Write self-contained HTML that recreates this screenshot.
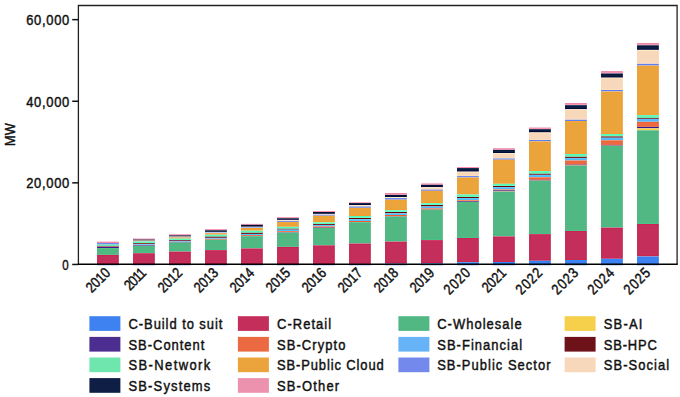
<!DOCTYPE html>
<html><head><meta charset="utf-8"><style>
html,body{margin:0;padding:0;background:#fff;}
svg{display:block;}
text{font-family:"Liberation Sans",sans-serif;}
</style></head><body>
<svg width="680" height="397" viewBox="0 0 680 397">
<defs><filter id="sh" x="-5%" y="-5%" width="110%" height="110%" filterUnits="objectBoundingBox" color-interpolation-filters="sRGB"><feConvolveMatrix order="3" kernelMatrix="0 -0.1 0 -0.1 1.4 -0.1 0 -0.1 0" edgeMode="duplicate" preserveAlpha="false"/></filter></defs>
<rect x="0" y="0" width="680" height="397" fill="#fff"/>
<g filter="url(#sh)"><rect x="80" y="30" width="596" height="240" fill="#fff"/>
<rect x="97.10" y="241.60" width="21.7" height="1.45" fill="#EC91AE"/>
<rect x="97.10" y="243.05" width="21.7" height="1.55" fill="#7389EC"/>
<rect x="97.10" y="244.60" width="21.7" height="1.30" fill="#62F2B2"/>
<rect x="97.10" y="245.90" width="21.7" height="0.70" fill="#6E1219"/>
<rect x="97.10" y="246.60" width="21.7" height="0.20" fill="#5CB8FA"/>
<rect x="97.10" y="246.80" width="21.7" height="0.20" fill="#EB6A41"/>
<rect x="97.10" y="247.00" width="21.7" height="1.00" fill="#4B2E8F"/>
<rect x="97.10" y="248.00" width="21.7" height="6.90" fill="#52B883"/>
<rect x="97.10" y="254.90" width="21.7" height="9.10" fill="#C42E5A"/>
<rect x="97.10" y="264.00" width="21.7" height="0.60" fill="#3D82F0"/>
<rect x="133.10" y="238.50" width="21.7" height="1.10" fill="#EC91AE"/>
<rect x="133.10" y="239.60" width="21.7" height="1.00" fill="#0F1E45"/>
<rect x="133.10" y="240.60" width="21.7" height="0.40" fill="#F8D8BA"/>
<rect x="133.10" y="241.00" width="21.7" height="0.20" fill="#7389EC"/>
<rect x="133.10" y="241.20" width="21.7" height="0.30" fill="#EBA43C"/>
<rect x="133.10" y="241.50" width="21.7" height="1.80" fill="#62F2B2"/>
<rect x="133.10" y="243.30" width="21.7" height="1.00" fill="#6E1219"/>
<rect x="133.10" y="244.30" width="21.7" height="0.70" fill="#5CB8FA"/>
<rect x="133.10" y="245.00" width="21.7" height="0.20" fill="#EB6A41"/>
<rect x="133.10" y="245.20" width="21.7" height="0.60" fill="#4B2E8F"/>
<rect x="133.10" y="245.80" width="21.7" height="7.40" fill="#52B883"/>
<rect x="133.10" y="253.20" width="21.7" height="10.80" fill="#C42E5A"/>
<rect x="133.10" y="264.00" width="21.7" height="0.60" fill="#3D82F0"/>
<rect x="169.10" y="234.20" width="21.7" height="1.20" fill="#EC91AE"/>
<rect x="169.10" y="235.40" width="21.7" height="1.20" fill="#0F1E45"/>
<rect x="169.10" y="236.60" width="21.7" height="0.50" fill="#F8D8BA"/>
<rect x="169.10" y="237.10" width="21.7" height="0.40" fill="#7389EC"/>
<rect x="169.10" y="237.50" width="21.7" height="1.10" fill="#EBA43C"/>
<rect x="169.10" y="238.60" width="21.7" height="1.40" fill="#62F2B2"/>
<rect x="169.10" y="240.00" width="21.7" height="0.80" fill="#6E1219"/>
<rect x="169.10" y="240.80" width="21.7" height="1.00" fill="#5CB8FA"/>
<rect x="169.10" y="241.80" width="21.7" height="0.20" fill="#EB6A41"/>
<rect x="169.10" y="242.00" width="21.7" height="0.50" fill="#4B2E8F"/>
<rect x="169.10" y="242.50" width="21.7" height="9.10" fill="#52B883"/>
<rect x="169.10" y="251.60" width="21.7" height="12.40" fill="#C42E5A"/>
<rect x="169.10" y="264.00" width="21.7" height="0.60" fill="#3D82F0"/>
<rect x="205.10" y="229.10" width="21.7" height="1.20" fill="#EC91AE"/>
<rect x="205.10" y="230.30" width="21.7" height="1.60" fill="#0F1E45"/>
<rect x="205.10" y="231.90" width="21.7" height="0.60" fill="#F8D8BA"/>
<rect x="205.10" y="232.50" width="21.7" height="0.70" fill="#7389EC"/>
<rect x="205.10" y="233.20" width="21.7" height="1.50" fill="#EBA43C"/>
<rect x="205.10" y="234.70" width="21.7" height="2.00" fill="#62F2B2"/>
<rect x="205.10" y="236.70" width="21.7" height="1.10" fill="#6E1219"/>
<rect x="205.10" y="237.80" width="21.7" height="1.00" fill="#5CB8FA"/>
<rect x="205.10" y="238.80" width="21.7" height="0.80" fill="#EB6A41"/>
<rect x="205.10" y="239.60" width="21.7" height="0.10" fill="#4B2E8F"/>
<rect x="205.10" y="239.70" width="21.7" height="10.40" fill="#52B883"/>
<rect x="205.10" y="250.10" width="21.7" height="13.90" fill="#C42E5A"/>
<rect x="205.10" y="264.00" width="21.7" height="0.60" fill="#3D82F0"/>
<rect x="241.10" y="223.80" width="21.7" height="1.00" fill="#EC91AE"/>
<rect x="241.10" y="224.80" width="21.7" height="2.00" fill="#0F1E45"/>
<rect x="241.10" y="226.80" width="21.7" height="0.60" fill="#F8D8BA"/>
<rect x="241.10" y="227.40" width="21.7" height="0.60" fill="#7389EC"/>
<rect x="241.10" y="228.00" width="21.7" height="2.70" fill="#EBA43C"/>
<rect x="241.10" y="230.70" width="21.7" height="2.10" fill="#62F2B2"/>
<rect x="241.10" y="232.80" width="21.7" height="1.10" fill="#6E1219"/>
<rect x="241.10" y="233.90" width="21.7" height="1.20" fill="#5CB8FA"/>
<rect x="241.10" y="235.10" width="21.7" height="0.80" fill="#EB6A41"/>
<rect x="241.10" y="235.90" width="21.7" height="0.30" fill="#4B2E8F"/>
<rect x="241.10" y="236.20" width="21.7" height="12.20" fill="#52B883"/>
<rect x="241.10" y="248.40" width="21.7" height="15.60" fill="#C42E5A"/>
<rect x="241.10" y="264.00" width="21.7" height="0.60" fill="#3D82F0"/>
<rect x="277.10" y="217.10" width="21.7" height="1.20" fill="#EC91AE"/>
<rect x="277.10" y="218.30" width="21.7" height="1.60" fill="#0F1E45"/>
<rect x="277.10" y="219.90" width="21.7" height="0.90" fill="#F8D8BA"/>
<rect x="277.10" y="220.80" width="21.7" height="1.10" fill="#7389EC"/>
<rect x="277.10" y="221.90" width="21.7" height="4.90" fill="#EBA43C"/>
<rect x="277.10" y="226.80" width="21.7" height="2.00" fill="#62F2B2"/>
<rect x="277.10" y="228.80" width="21.7" height="0.80" fill="#6E1219"/>
<rect x="277.10" y="229.60" width="21.7" height="1.60" fill="#5CB8FA"/>
<rect x="277.10" y="231.20" width="21.7" height="1.00" fill="#EB6A41"/>
<rect x="277.10" y="232.20" width="21.7" height="0.40" fill="#4B2E8F"/>
<rect x="277.10" y="232.60" width="21.7" height="14.30" fill="#52B883"/>
<rect x="277.10" y="246.90" width="21.7" height="17.10" fill="#C42E5A"/>
<rect x="277.10" y="264.00" width="21.7" height="0.60" fill="#3D82F0"/>
<rect x="313.10" y="210.90" width="21.7" height="1.10" fill="#EC91AE"/>
<rect x="313.10" y="212.00" width="21.7" height="1.90" fill="#0F1E45"/>
<rect x="313.10" y="213.90" width="21.7" height="0.70" fill="#F8D8BA"/>
<rect x="313.10" y="214.60" width="21.7" height="1.10" fill="#7389EC"/>
<rect x="313.10" y="215.70" width="21.7" height="6.70" fill="#EBA43C"/>
<rect x="313.10" y="222.40" width="21.7" height="1.60" fill="#62F2B2"/>
<rect x="313.10" y="224.00" width="21.7" height="0.90" fill="#6E1219"/>
<rect x="313.10" y="224.90" width="21.7" height="1.50" fill="#5CB8FA"/>
<rect x="313.10" y="226.40" width="21.7" height="1.20" fill="#EB6A41"/>
<rect x="313.10" y="227.60" width="21.7" height="0.40" fill="#4B2E8F"/>
<rect x="313.10" y="228.00" width="21.7" height="17.30" fill="#52B883"/>
<rect x="313.10" y="245.30" width="21.7" height="18.70" fill="#C42E5A"/>
<rect x="313.10" y="264.00" width="21.7" height="0.60" fill="#3D82F0"/>
<rect x="349.10" y="202.20" width="21.7" height="0.90" fill="#EC91AE"/>
<rect x="349.10" y="203.10" width="21.7" height="2.10" fill="#0F1E45"/>
<rect x="349.10" y="205.20" width="21.7" height="1.30" fill="#F8D8BA"/>
<rect x="349.10" y="206.50" width="21.7" height="1.30" fill="#7389EC"/>
<rect x="349.10" y="207.80" width="21.7" height="8.20" fill="#EBA43C"/>
<rect x="349.10" y="216.00" width="21.7" height="2.00" fill="#62F2B2"/>
<rect x="349.10" y="218.00" width="21.7" height="1.10" fill="#6E1219"/>
<rect x="349.10" y="219.10" width="21.7" height="1.90" fill="#5CB8FA"/>
<rect x="349.10" y="221.00" width="21.7" height="1.00" fill="#EB6A41"/>
<rect x="349.10" y="222.00" width="21.7" height="0.20" fill="#4B2E8F"/>
<rect x="349.10" y="222.20" width="21.7" height="21.30" fill="#52B883"/>
<rect x="349.10" y="243.50" width="21.7" height="20.40" fill="#C42E5A"/>
<rect x="349.10" y="263.90" width="21.7" height="0.70" fill="#3D82F0"/>
<rect x="385.10" y="193.00" width="21.7" height="1.90" fill="#EC91AE"/>
<rect x="385.10" y="194.90" width="21.7" height="2.10" fill="#0F1E45"/>
<rect x="385.10" y="197.00" width="21.7" height="1.10" fill="#F8D8BA"/>
<rect x="385.10" y="198.10" width="21.7" height="1.60" fill="#7389EC"/>
<rect x="385.10" y="199.70" width="21.7" height="10.50" fill="#EBA43C"/>
<rect x="385.10" y="210.20" width="21.7" height="1.80" fill="#62F2B2"/>
<rect x="385.10" y="212.00" width="21.7" height="1.40" fill="#6E1219"/>
<rect x="385.10" y="213.40" width="21.7" height="1.60" fill="#5CB8FA"/>
<rect x="385.10" y="215.00" width="21.7" height="1.30" fill="#EB6A41"/>
<rect x="385.10" y="216.30" width="21.7" height="0.30" fill="#4B2E8F"/>
<rect x="385.10" y="216.60" width="21.7" height="25.00" fill="#52B883"/>
<rect x="385.10" y="241.60" width="21.7" height="22.00" fill="#C42E5A"/>
<rect x="385.10" y="263.60" width="21.7" height="1.00" fill="#3D82F0"/>
<rect x="421.10" y="183.40" width="21.7" height="1.40" fill="#EC91AE"/>
<rect x="421.10" y="184.80" width="21.7" height="2.50" fill="#0F1E45"/>
<rect x="421.10" y="187.30" width="21.7" height="2.30" fill="#F8D8BA"/>
<rect x="421.10" y="189.60" width="21.7" height="1.20" fill="#7389EC"/>
<rect x="421.10" y="190.80" width="21.7" height="12.40" fill="#EBA43C"/>
<rect x="421.10" y="203.20" width="21.7" height="1.80" fill="#62F2B2"/>
<rect x="421.10" y="205.00" width="21.7" height="1.50" fill="#6E1219"/>
<rect x="421.10" y="206.50" width="21.7" height="1.90" fill="#5CB8FA"/>
<rect x="421.10" y="208.40" width="21.7" height="1.10" fill="#EB6A41"/>
<rect x="421.10" y="209.50" width="21.7" height="0.20" fill="#4B2E8F"/>
<rect x="421.10" y="209.70" width="21.7" height="30.40" fill="#52B883"/>
<rect x="421.10" y="240.10" width="21.7" height="23.20" fill="#C42E5A"/>
<rect x="421.10" y="263.30" width="21.7" height="1.30" fill="#3D82F0"/>
<rect x="457.10" y="167.00" width="21.7" height="1.10" fill="#EC91AE"/>
<rect x="457.10" y="168.10" width="21.7" height="3.60" fill="#0F1E45"/>
<rect x="457.10" y="171.70" width="21.7" height="4.40" fill="#F8D8BA"/>
<rect x="457.10" y="176.10" width="21.7" height="1.40" fill="#7389EC"/>
<rect x="457.10" y="177.50" width="21.7" height="17.00" fill="#EBA43C"/>
<rect x="457.10" y="194.50" width="21.7" height="2.50" fill="#62F2B2"/>
<rect x="457.10" y="197.00" width="21.7" height="1.00" fill="#6E1219"/>
<rect x="457.10" y="198.00" width="21.7" height="2.30" fill="#5CB8FA"/>
<rect x="457.10" y="200.30" width="21.7" height="0.70" fill="#EB6A41"/>
<rect x="457.10" y="201.00" width="21.7" height="0.80" fill="#4B2E8F"/>
<rect x="457.10" y="201.80" width="21.7" height="0.10" fill="#F6D04B"/>
<rect x="457.10" y="201.90" width="21.7" height="36.10" fill="#52B883"/>
<rect x="457.10" y="238.00" width="21.7" height="24.20" fill="#C42E5A"/>
<rect x="457.10" y="262.20" width="21.7" height="2.40" fill="#3D82F0"/>
<rect x="493.10" y="148.20" width="21.7" height="1.70" fill="#EC91AE"/>
<rect x="493.10" y="149.90" width="21.7" height="3.10" fill="#0F1E45"/>
<rect x="493.10" y="153.00" width="21.7" height="5.50" fill="#F8D8BA"/>
<rect x="493.10" y="158.50" width="21.7" height="1.20" fill="#7389EC"/>
<rect x="493.10" y="159.70" width="21.7" height="24.10" fill="#EBA43C"/>
<rect x="493.10" y="183.80" width="21.7" height="2.20" fill="#62F2B2"/>
<rect x="493.10" y="186.00" width="21.7" height="1.00" fill="#6E1219"/>
<rect x="493.10" y="187.00" width="21.7" height="2.50" fill="#5CB8FA"/>
<rect x="493.10" y="189.50" width="21.7" height="0.90" fill="#EB6A41"/>
<rect x="493.10" y="190.40" width="21.7" height="1.00" fill="#4B2E8F"/>
<rect x="493.10" y="191.40" width="21.7" height="0.30" fill="#F6D04B"/>
<rect x="493.10" y="191.70" width="21.7" height="44.70" fill="#52B883"/>
<rect x="493.10" y="236.40" width="21.7" height="25.60" fill="#C42E5A"/>
<rect x="493.10" y="262.00" width="21.7" height="2.60" fill="#3D82F0"/>
<rect x="529.10" y="127.50" width="21.7" height="1.70" fill="#EC91AE"/>
<rect x="529.10" y="129.20" width="21.7" height="3.30" fill="#0F1E45"/>
<rect x="529.10" y="132.50" width="21.7" height="7.50" fill="#F8D8BA"/>
<rect x="529.10" y="140.00" width="21.7" height="1.40" fill="#7389EC"/>
<rect x="529.10" y="141.40" width="21.7" height="29.70" fill="#EBA43C"/>
<rect x="529.10" y="171.10" width="21.7" height="2.70" fill="#62F2B2"/>
<rect x="529.10" y="173.80" width="21.7" height="1.00" fill="#6E1219"/>
<rect x="529.10" y="174.80" width="21.7" height="2.50" fill="#5CB8FA"/>
<rect x="529.10" y="177.30" width="21.7" height="2.50" fill="#EB6A41"/>
<rect x="529.10" y="179.80" width="21.7" height="0.80" fill="#4B2E8F"/>
<rect x="529.10" y="180.60" width="21.7" height="0.30" fill="#F6D04B"/>
<rect x="529.10" y="180.90" width="21.7" height="53.20" fill="#52B883"/>
<rect x="529.10" y="234.10" width="21.7" height="26.70" fill="#C42E5A"/>
<rect x="529.10" y="260.80" width="21.7" height="3.80" fill="#3D82F0"/>
<rect x="565.10" y="103.00" width="21.7" height="2.20" fill="#EC91AE"/>
<rect x="565.10" y="105.20" width="21.7" height="4.10" fill="#0F1E45"/>
<rect x="565.10" y="109.30" width="21.7" height="10.40" fill="#F8D8BA"/>
<rect x="565.10" y="119.70" width="21.7" height="1.30" fill="#7389EC"/>
<rect x="565.10" y="121.00" width="21.7" height="33.00" fill="#EBA43C"/>
<rect x="565.10" y="154.00" width="21.7" height="2.80" fill="#62F2B2"/>
<rect x="565.10" y="156.80" width="21.7" height="1.10" fill="#6E1219"/>
<rect x="565.10" y="157.90" width="21.7" height="2.60" fill="#5CB8FA"/>
<rect x="565.10" y="160.50" width="21.7" height="4.20" fill="#EB6A41"/>
<rect x="565.10" y="164.70" width="21.7" height="0.80" fill="#4B2E8F"/>
<rect x="565.10" y="165.50" width="21.7" height="0.30" fill="#F6D04B"/>
<rect x="565.10" y="165.80" width="21.7" height="65.20" fill="#52B883"/>
<rect x="565.10" y="231.00" width="21.7" height="29.00" fill="#C42E5A"/>
<rect x="565.10" y="260.00" width="21.7" height="4.60" fill="#3D82F0"/>
<rect x="601.10" y="71.10" width="21.7" height="2.40" fill="#EC91AE"/>
<rect x="601.10" y="73.50" width="21.7" height="4.20" fill="#0F1E45"/>
<rect x="601.10" y="77.70" width="21.7" height="12.30" fill="#F8D8BA"/>
<rect x="601.10" y="90.00" width="21.7" height="1.50" fill="#7389EC"/>
<rect x="601.10" y="91.50" width="21.7" height="42.50" fill="#EBA43C"/>
<rect x="601.10" y="134.00" width="21.7" height="2.50" fill="#62F2B2"/>
<rect x="601.10" y="136.50" width="21.7" height="1.20" fill="#6E1219"/>
<rect x="601.10" y="137.70" width="21.7" height="2.60" fill="#5CB8FA"/>
<rect x="601.10" y="140.30" width="21.7" height="4.60" fill="#EB6A41"/>
<rect x="601.10" y="144.90" width="21.7" height="0.80" fill="#4B2E8F"/>
<rect x="601.10" y="145.70" width="21.7" height="0.30" fill="#F6D04B"/>
<rect x="601.10" y="146.00" width="21.7" height="81.60" fill="#52B883"/>
<rect x="601.10" y="227.60" width="21.7" height="31.20" fill="#C42E5A"/>
<rect x="601.10" y="258.80" width="21.7" height="5.80" fill="#3D82F0"/>
<rect x="637.10" y="43.00" width="21.7" height="2.30" fill="#EC91AE"/>
<rect x="637.10" y="45.30" width="21.7" height="4.60" fill="#0F1E45"/>
<rect x="637.10" y="49.90" width="21.7" height="13.90" fill="#F8D8BA"/>
<rect x="637.10" y="63.80" width="21.7" height="1.80" fill="#7389EC"/>
<rect x="637.10" y="65.60" width="21.7" height="49.50" fill="#EBA43C"/>
<rect x="637.10" y="115.10" width="21.7" height="2.80" fill="#62F2B2"/>
<rect x="637.10" y="117.90" width="21.7" height="0.90" fill="#6E1219"/>
<rect x="637.10" y="118.80" width="21.7" height="3.00" fill="#5CB8FA"/>
<rect x="637.10" y="121.80" width="21.7" height="5.10" fill="#EB6A41"/>
<rect x="637.10" y="126.90" width="21.7" height="1.50" fill="#4B2E8F"/>
<rect x="637.10" y="128.40" width="21.7" height="1.90" fill="#F6D04B"/>
<rect x="637.10" y="130.30" width="21.7" height="93.70" fill="#52B883"/>
<rect x="637.10" y="224.00" width="21.7" height="32.50" fill="#C42E5A"/>
<rect x="637.10" y="256.50" width="21.7" height="8.10" fill="#3D82F0"/>
<rect x="97.10" y="265.1" width="21.7" height="1.0" fill="#3D82F0" fill-opacity="0.3"/>
<rect x="133.10" y="265.1" width="21.7" height="1.0" fill="#3D82F0" fill-opacity="0.3"/>
<rect x="169.10" y="265.1" width="21.7" height="1.0" fill="#3D82F0" fill-opacity="0.3"/>
<rect x="205.10" y="265.1" width="21.7" height="1.0" fill="#3D82F0" fill-opacity="0.3"/>
<rect x="241.10" y="265.1" width="21.7" height="1.0" fill="#3D82F0" fill-opacity="0.3"/>
<rect x="277.10" y="265.1" width="21.7" height="1.0" fill="#3D82F0" fill-opacity="0.3"/>
<rect x="313.10" y="265.1" width="21.7" height="1.0" fill="#3D82F0" fill-opacity="0.3"/>
<rect x="349.10" y="265.1" width="21.7" height="1.0" fill="#3D82F0" fill-opacity="0.3"/>
<rect x="385.10" y="265.1" width="21.7" height="1.0" fill="#3D82F0" fill-opacity="0.3"/>
<rect x="421.10" y="265.1" width="21.7" height="1.0" fill="#3D82F0" fill-opacity="0.3"/>
<rect x="457.10" y="265.1" width="21.7" height="1.0" fill="#3D82F0" fill-opacity="0.3"/>
<rect x="493.10" y="265.1" width="21.7" height="1.0" fill="#3D82F0" fill-opacity="0.3"/>
<rect x="529.10" y="265.1" width="21.7" height="1.0" fill="#3D82F0" fill-opacity="0.3"/>
<rect x="565.10" y="265.1" width="21.7" height="1.0" fill="#3D82F0" fill-opacity="0.3"/>
<rect x="601.10" y="265.1" width="21.7" height="1.0" fill="#3D82F0" fill-opacity="0.3"/>
<rect x="637.10" y="265.1" width="21.7" height="1.0" fill="#3D82F0" fill-opacity="0.3"/></g>
<path d="M78.4 264.3 V5.5 H677.1 V264.3" fill="none" stroke="#222" stroke-width="1.3"/>
<line x1="77.8" y1="264.3" x2="677.75" y2="264.3" stroke="#000" stroke-width="1.6"/>
<line x1="72.2" y1="264.45" x2="78.5" y2="264.45" stroke="#111" stroke-width="1.5"/>
<text x="69.2" y="269.95" text-anchor="end" font-size="15.2" fill="#111" stroke="#111" stroke-width="0.45" textLength="6.4" lengthAdjust="spacingAndGlyphs" dx="-0.6">0</text>
<line x1="72.2" y1="182.85" x2="78.5" y2="182.85" stroke="#111" stroke-width="1.5"/>
<text transform="translate(69.2,188.35) scale(0.85,1)" text-anchor="end" font-size="15.2" fill="#111" stroke="#111" stroke-width="0.45" textLength="50.6" lengthAdjust="spacing">20,000</text>
<line x1="72.2" y1="101.25" x2="78.5" y2="101.25" stroke="#111" stroke-width="1.5"/>
<text transform="translate(69.2,106.75) scale(0.85,1)" text-anchor="end" font-size="15.2" fill="#111" stroke="#111" stroke-width="0.45" textLength="50.6" lengthAdjust="spacing">40,000</text>
<line x1="72.2" y1="19.65" x2="78.5" y2="19.65" stroke="#111" stroke-width="1.5"/>
<text transform="translate(69.2,25.15) scale(0.85,1)" text-anchor="end" font-size="15.2" fill="#111" stroke="#111" stroke-width="0.45" textLength="50.6" lengthAdjust="spacing">60,000</text>
<text transform="translate(15.0,134.5) rotate(-90)" text-anchor="middle" font-size="14.6" fill="#111" stroke="#111" stroke-width="0.45" textLength="22.8" lengthAdjust="spacingAndGlyphs">MW</text>
<text transform="translate(111.25,273.90) rotate(-45) scale(0.85,1)" text-anchor="end" font-size="14.8" fill="#111" stroke="#111" stroke-width="0.45" textLength="32.5" lengthAdjust="spacing">2010</text>
<text transform="translate(147.25,273.90) rotate(-45) scale(0.85,1)" text-anchor="end" font-size="14.8" fill="#111" stroke="#111" stroke-width="0.45" textLength="28.9" lengthAdjust="spacing">2011</text>
<text transform="translate(183.25,273.90) rotate(-45) scale(0.85,1)" text-anchor="end" font-size="14.8" fill="#111" stroke="#111" stroke-width="0.45" textLength="32.5" lengthAdjust="spacing">2012</text>
<text transform="translate(219.25,273.90) rotate(-45) scale(0.85,1)" text-anchor="end" font-size="14.8" fill="#111" stroke="#111" stroke-width="0.45" textLength="32.5" lengthAdjust="spacing">2013</text>
<text transform="translate(255.25,273.90) rotate(-45) scale(0.85,1)" text-anchor="end" font-size="14.8" fill="#111" stroke="#111" stroke-width="0.45" textLength="32.5" lengthAdjust="spacing">2014</text>
<text transform="translate(291.25,273.90) rotate(-45) scale(0.85,1)" text-anchor="end" font-size="14.8" fill="#111" stroke="#111" stroke-width="0.45" textLength="32.5" lengthAdjust="spacing">2015</text>
<text transform="translate(327.25,273.90) rotate(-45) scale(0.85,1)" text-anchor="end" font-size="14.8" fill="#111" stroke="#111" stroke-width="0.45" textLength="32.5" lengthAdjust="spacing">2016</text>
<text transform="translate(363.25,273.90) rotate(-45) scale(0.85,1)" text-anchor="end" font-size="14.8" fill="#111" stroke="#111" stroke-width="0.45" textLength="32.5" lengthAdjust="spacing">2017</text>
<text transform="translate(399.25,273.90) rotate(-45) scale(0.85,1)" text-anchor="end" font-size="14.8" fill="#111" stroke="#111" stroke-width="0.45" textLength="32.5" lengthAdjust="spacing">2018</text>
<text transform="translate(435.25,273.90) rotate(-45) scale(0.85,1)" text-anchor="end" font-size="14.8" fill="#111" stroke="#111" stroke-width="0.45" textLength="32.5" lengthAdjust="spacing">2019</text>
<text transform="translate(471.25,273.90) rotate(-45) scale(0.85,1)" text-anchor="end" font-size="14.8" fill="#111" stroke="#111" stroke-width="0.45" textLength="36.0" lengthAdjust="spacing">2020</text>
<text transform="translate(507.25,273.90) rotate(-45) scale(0.85,1)" text-anchor="end" font-size="14.8" fill="#111" stroke="#111" stroke-width="0.45" textLength="32.5" lengthAdjust="spacing">2021</text>
<text transform="translate(543.25,273.90) rotate(-45) scale(0.85,1)" text-anchor="end" font-size="14.8" fill="#111" stroke="#111" stroke-width="0.45" textLength="36.0" lengthAdjust="spacing">2022</text>
<text transform="translate(579.25,273.90) rotate(-45) scale(0.85,1)" text-anchor="end" font-size="14.8" fill="#111" stroke="#111" stroke-width="0.45" textLength="36.0" lengthAdjust="spacing">2023</text>
<text transform="translate(615.25,273.90) rotate(-45) scale(0.85,1)" text-anchor="end" font-size="14.8" fill="#111" stroke="#111" stroke-width="0.45" textLength="36.0" lengthAdjust="spacing">2024</text>
<text transform="translate(651.25,273.90) rotate(-45) scale(0.85,1)" text-anchor="end" font-size="14.8" fill="#111" stroke="#111" stroke-width="0.45" textLength="36.0" lengthAdjust="spacing">2025</text>
<rect x="89.4" y="316.2" width="31" height="14.7" fill="#3D82F0"/>
<text transform="translate(128.5,328.8) scale(0.9,1)" font-size="14.4" fill="#111" stroke="#111" stroke-width="0.45" textLength="104.3" lengthAdjust="spacing">C-Build to suit</text>
<rect x="89.4" y="336.9" width="31" height="14.7" fill="#4B2E8F"/>
<text transform="translate(128.5,349.5) scale(0.9,1)" font-size="14.4" fill="#111" stroke="#111" stroke-width="0.45" textLength="84.3" lengthAdjust="spacing">SB-Content</text>
<rect x="89.4" y="357.5" width="31" height="14.7" fill="#6EE6AE"/>
<text transform="translate(128.5,370.1) scale(0.9,1)" font-size="14.4" fill="#111" stroke="#111" stroke-width="0.45" textLength="90.8" lengthAdjust="spacing">SB-Network</text>
<rect x="89.4" y="378.1" width="31" height="14.7" fill="#0F1E45"/>
<text transform="translate(128.5,390.7) scale(0.9,1)" font-size="14.4" fill="#111" stroke="#111" stroke-width="0.45" textLength="90.8" lengthAdjust="spacing">SB-Systems</text>
<rect x="237.9" y="316.2" width="31" height="14.7" fill="#C42E5A"/>
<text transform="translate(277.0,328.8) scale(0.9,1)" font-size="14.4" fill="#111" stroke="#111" stroke-width="0.45" textLength="60.2" lengthAdjust="spacing">C-Retail</text>
<rect x="237.9" y="336.9" width="31" height="14.7" fill="#EB6A41"/>
<text transform="translate(277.0,349.5) scale(0.9,1)" font-size="14.4" fill="#111" stroke="#111" stroke-width="0.45" textLength="76.1" lengthAdjust="spacing">SB-Crypto</text>
<rect x="237.9" y="357.5" width="31" height="14.7" fill="#EBA43C"/>
<text transform="translate(277.0,370.1) scale(0.9,1)" font-size="14.4" fill="#111" stroke="#111" stroke-width="0.45" textLength="118.6" lengthAdjust="spacing">SB-Public Cloud</text>
<rect x="237.9" y="378.1" width="31" height="14.7" fill="#EC91AE"/>
<text transform="translate(277.0,390.7) scale(0.9,1)" font-size="14.4" fill="#111" stroke="#111" stroke-width="0.45" textLength="69.0" lengthAdjust="spacing">SB-Other</text>
<rect x="398.4" y="316.2" width="31" height="14.7" fill="#52B883"/>
<text transform="translate(437.2,328.8) scale(0.9,1)" font-size="14.4" fill="#111" stroke="#111" stroke-width="0.45" textLength="93.8" lengthAdjust="spacing">C-Wholesale</text>
<rect x="398.4" y="336.9" width="31" height="14.7" fill="#66B3F7"/>
<text transform="translate(437.2,349.5) scale(0.9,1)" font-size="14.4" fill="#111" stroke="#111" stroke-width="0.45" textLength="94.4" lengthAdjust="spacing">SB-Financial</text>
<rect x="398.4" y="357.5" width="31" height="14.7" fill="#7389EC"/>
<text transform="translate(437.2,370.1) scale(0.9,1)" font-size="14.4" fill="#111" stroke="#111" stroke-width="0.45" textLength="125.9" lengthAdjust="spacing">SB-Public Sector</text>
<rect x="564.6" y="316.2" width="31" height="14.7" fill="#F6D04B"/>
<text transform="translate(603.7,328.8) scale(0.9,1)" font-size="14.4" fill="#111" stroke="#111" stroke-width="0.45" textLength="43.0" lengthAdjust="spacing">SB-AI</text>
<rect x="564.6" y="336.9" width="31" height="14.7" fill="#6E1219"/>
<text transform="translate(603.7,349.5) scale(0.9,1)" font-size="14.4" fill="#111" stroke="#111" stroke-width="0.45" textLength="59.1" lengthAdjust="spacing">SB-HPC</text>
<rect x="564.6" y="357.5" width="31" height="14.7" fill="#F8D8BA"/>
<text transform="translate(603.7,370.1) scale(0.9,1)" font-size="14.4" fill="#111" stroke="#111" stroke-width="0.45" textLength="72.8" lengthAdjust="spacing">SB-Social</text>
</svg>
</body></html>
